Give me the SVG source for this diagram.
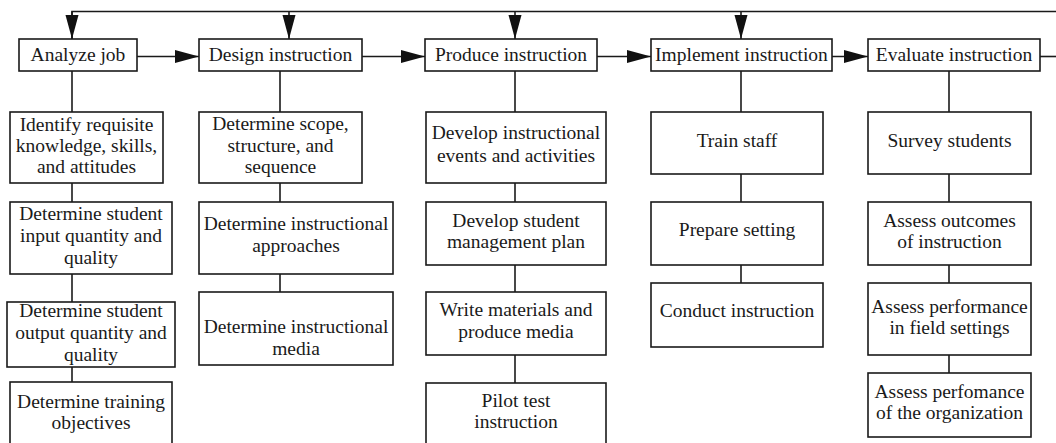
<svg xmlns="http://www.w3.org/2000/svg" width="1056" height="443" viewBox="0 0 1056 443">
<style>
.box{fill:#fff;stroke:#1a1a1a;stroke-width:1.6}
.ln{fill:none;stroke:#1a1a1a;stroke-width:1.6}
</style>
<defs>
<marker id="ah" markerUnits="userSpaceOnUse" markerWidth="25" markerHeight="14" refX="24" refY="6.5" orient="auto">
<path d="M0,0 L24,6.5 L0,13 z" fill="#111"/>
</marker>
</defs>
<rect width="1056" height="443" fill="#fff"/>
<g id="connectors">
<polyline class="ln" points="72,39 72,11.5 1056,11.5"/>
<line class="ln" x1="72" y1="11.5" x2="72" y2="39" marker-end="url(#ah)"/>
<line class="ln" x1="289" y1="11.5" x2="289" y2="39" marker-end="url(#ah)"/>
<line class="ln" x1="515" y1="11.5" x2="515" y2="39" marker-end="url(#ah)"/>
<line class="ln" x1="741" y1="11.5" x2="741" y2="39" marker-end="url(#ah)"/>
<line class="ln" x1="137" y1="56.5" x2="199" y2="56.5" marker-end="url(#ah)"/>
<line class="ln" x1="362" y1="56.5" x2="425" y2="56.5" marker-end="url(#ah)"/>
<line class="ln" x1="597" y1="56.5" x2="651" y2="56.5" marker-end="url(#ah)"/>
<line class="ln" x1="832" y1="56.5" x2="868" y2="56.5" marker-end="url(#ah)"/>
<line class="ln" x1="1040" y1="56.5" x2="1056" y2="56.5"/>
<line class="ln" x1="72" y1="71" x2="72" y2="382"/>
<line class="ln" x1="280" y1="71" x2="280" y2="292"/>
<line class="ln" x1="515" y1="71" x2="515" y2="383"/>
<line class="ln" x1="741" y1="71" x2="741" y2="283"/>
<line class="ln" x1="949" y1="71" x2="949" y2="373"/>
</g>
<g font-family="Liberation Serif" font-size="19.5" fill="#1a1a1a" text-anchor="middle">
<g id="analyze-job"><rect class="box" x="19" y="39" width="118" height="32"/><text x="78" y="61">Analyze job</text></g>
<g id="design-instruction"><rect class="box" x="199" y="39" width="163" height="32"/><text x="280.5" y="61">Design instruction</text></g>
<g id="produce-instruction"><rect class="box" x="425" y="39" width="172" height="32"/><text x="511" y="61">Produce instruction</text></g>
<g id="implement-instruction"><rect class="box" x="651" y="39" width="181" height="32"/><text x="741.5" y="61">Implement instruction</text></g>
<g id="evaluate-instruction"><rect class="box" x="868" y="39" width="172" height="32"/><text x="954" y="61">Evaluate instruction</text></g>

<g id="identify-ksa"><rect class="box" x="10" y="112" width="153" height="71"/><text x="86.5" y="131">Identify requisite</text><text x="86.5" y="152">knowledge, skills,</text><text x="86.5" y="173">and attitudes</text></g>
<g id="student-input"><rect class="box" x="10" y="202" width="162" height="72"/><text x="91" y="220">Determine student</text><text x="91" y="242">input quantity and</text><text x="91" y="264">quality</text></g>
<g id="student-output"><rect class="box" x="7" y="302" width="168" height="65"/><text x="91" y="317">Determine student</text><text x="91" y="339">output quantity and</text><text x="91" y="361">quality</text></g>
<g id="training-objectives"><rect class="box" x="10" y="382" width="162" height="66"/><text x="91" y="408">Determine training</text><text x="91" y="429">objectives</text></g>

<g id="scope"><rect class="box" x="199" y="112" width="163" height="71"/><text x="280.5" y="130">Determine scope,</text><text x="280.5" y="152">structure, and</text><text x="280.5" y="173">sequence</text></g>
<g id="approaches"><rect class="box" x="199" y="202" width="194" height="72"/><text x="296" y="230">Determine instructional</text><text x="296" y="252">approaches</text></g>
<g id="media"><rect class="box" x="199" y="292" width="194" height="73"/><text x="296" y="333">Determine instructional</text><text x="296" y="355">media</text></g>

<g id="events"><rect class="box" x="426" y="112" width="180" height="71"/><text x="516" y="139">Develop instructional</text><text x="516" y="162">events and activities</text></g>
<g id="management-plan"><rect class="box" x="426" y="202" width="180" height="63"/><text x="516" y="227">Develop student</text><text x="516" y="248">management plan</text></g>
<g id="write-materials"><rect class="box" x="426" y="292" width="180" height="63"/><text x="516" y="316">Write materials and</text><text x="516" y="338">produce media</text></g>
<g id="pilot-test"><rect class="box" x="426" y="383" width="180" height="65"/><text x="516" y="407">Pilot test</text><text x="516" y="428">instruction</text></g>

<g id="train-staff"><rect class="box" x="651" y="112" width="172" height="62"/><text x="737" y="147">Train staff</text></g>
<g id="prepare-setting"><rect class="box" x="651" y="202" width="172" height="63"/><text x="737" y="236">Prepare setting</text></g>
<g id="conduct-instruction"><rect class="box" x="651" y="283" width="172" height="64"/><text x="737" y="317">Conduct instruction</text></g>

<g id="survey-students"><rect class="box" x="868" y="112" width="163" height="62"/><text x="949.5" y="147">Survey students</text></g>
<g id="assess-outcomes"><rect class="box" x="868" y="202" width="163" height="63"/><text x="949.5" y="227">Assess outcomes</text><text x="949.5" y="248">of instruction</text></g>
<g id="assess-field"><rect class="box" x="868" y="283" width="163" height="72"/><text x="949.5" y="313">Assess performance</text><text x="949.5" y="334">in field settings</text></g>
<g id="assess-org"><rect class="box" x="868" y="373" width="163" height="64"/><text x="949.5" y="398">Assess perfomance</text><text x="949.5" y="419">of the organization</text></g>
</g>
</svg>
